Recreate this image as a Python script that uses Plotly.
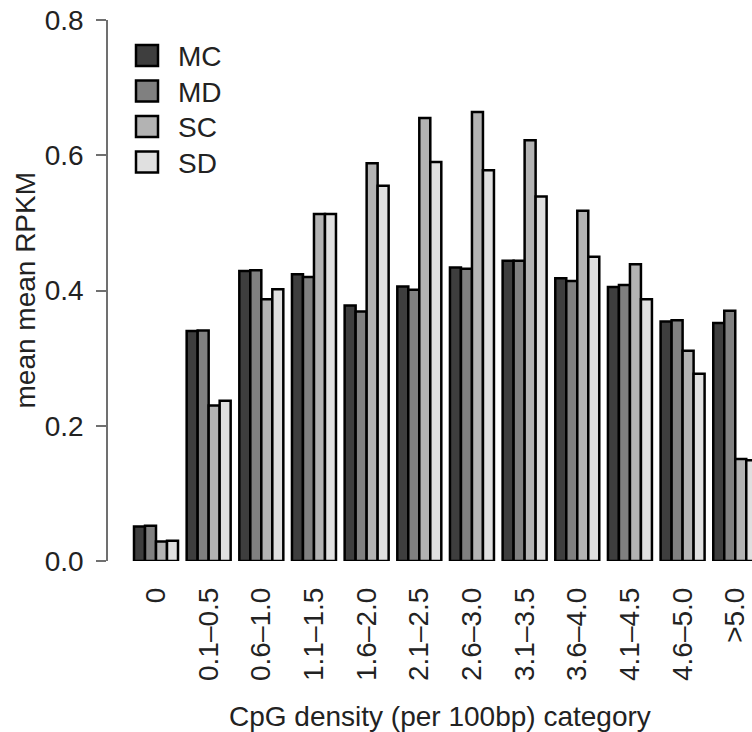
import plotly.graph_objects as go

# CpG density categories (per 100bp)
categories = ["0", "0.1–0.5", "0.6–1.0", "1.1–1.5", "1.6–2.0", "2.1–2.5",
              "2.6–3.0", "3.1–3.5", "3.6–4.0", "4.1–4.5", "4.6–5.0", ">5.0"]

series_names = ["MC", "MD", "SC", "SD"]
mc = [0.051, 0.340, 0.429, 0.424, 0.378, 0.406, 0.434, 0.444, 0.418, 0.405, 0.354, 0.352]
md = [0.052, 0.341, 0.430, 0.420, 0.369, 0.401, 0.432, 0.444, 0.414, 0.408, 0.356, 0.370]
sc = [0.029, 0.230, 0.387, 0.513, 0.588, 0.655, 0.664, 0.622, 0.518, 0.439, 0.311, 0.151]
sd = [0.030, 0.237, 0.402, 0.513, 0.555, 0.590, 0.578, 0.539, 0.450, 0.387, 0.277, 0.149]
series_values = [mc, md, sc, sd]
fill_colors = ["#3e3e3e", "#808080", "#b3b3b3", "#e0e0e0"]

y_ticks = [0.0, 0.2, 0.4, 0.6, 0.8]
y_tick_text = ["0.0", "0.2", "0.4", "0.6", "0.8"]

FONT = "Liberation Sans, Arial, sans-serif"
FS = 28
TEXT = "#222222"
W, H = 752, 732
ML, MR, MT, MB = 108, 0, 20, 171
plot_w = W - ML - MR
plot_h = H - MT - MB

fig = go.Figure()
for name, vals, col in zip(series_names, series_values, fill_colors):
    fig.add_trace(go.Bar(
        x=list(range(len(categories))), y=vals, name=name,
        marker=dict(color=col, line=dict(color="#000000", width=2.5)),
        showlegend=False,
    ))

# legend keys: boxes and labels stacked in the upper-left corner
def px_to_paper_x(px):
    return (px - ML) / plot_w

def px_to_paper_y(py):
    return 1 - (py - MT) / plot_h

box_w, box_h = 22, 21
for i, (name, col) in enumerate(zip(series_names, fill_colors)):
    cy = 55.5 + i * 35.5
    fig.add_shape(type="rect", xref="paper", yref="paper",
                  x0=px_to_paper_x(136), x1=px_to_paper_x(136 + box_w),
                  y0=px_to_paper_y(cy - box_h / 2), y1=px_to_paper_y(cy + box_h / 2),
                  fillcolor=col, line=dict(color="#000000", width=2.5))
    fig.add_annotation(text=name, xref="paper", yref="paper",
                       x=px_to_paper_x(176), y=px_to_paper_y(cy + 1),
                       xanchor="left", yanchor="middle", showarrow=False,
                       font=dict(family=FONT, size=FS, color=TEXT))

# axis titles
fig.add_annotation(text="mean mean RPKM", xref="paper", yref="paper",
                   x=px_to_paper_x(25), y=px_to_paper_y(290.5),
                   xanchor="center", yanchor="middle", textangle=-90,
                   showarrow=False, font=dict(family=FONT, size=FS, color=TEXT))
fig.add_annotation(text="CpG density (per 100bp) category", xref="paper", yref="paper",
                   x=px_to_paper_x(440), y=px_to_paper_y(716),
                   xanchor="center", yanchor="middle",
                   showarrow=False, font=dict(family=FONT, size=FS, color=TEXT))

unit = 52.66
x0_center = 156
fig.update_layout(
    width=W, height=H,
    margin=dict(l=ML, r=MR, t=MT, b=MB, pad=0),
    paper_bgcolor="white", plot_bgcolor="white",
    barmode="group", bargap=0.1645, bargroupgap=0,
    font=dict(family=FONT, size=FS, color=TEXT),
    xaxis=dict(
        range=[(ML - x0_center) / unit, (W - MR - x0_center) / unit],
        tickmode="array", tickvals=list(range(len(categories))), ticktext=categories,
        tickangle=-90, showline=False, showgrid=False, zeroline=False,
        ticks="", ticklabelstandoff=20,
        tickfont=dict(family=FONT, size=FS, color=TEXT),
    ),
    yaxis=dict(
        range=[0, 0.8], tickmode="array", tickvals=y_ticks, ticktext=y_tick_text,
        showline=True, linecolor="#707070", linewidth=1.5,
        ticks="outside", ticklen=10, tickwidth=1.5, tickcolor="#707070",
        ticklabelstandoff=7,
        showgrid=False, zeroline=False,
        tickfont=dict(family=FONT, size=FS, color=TEXT),
    ),
)

fig.write_html("out.html")
